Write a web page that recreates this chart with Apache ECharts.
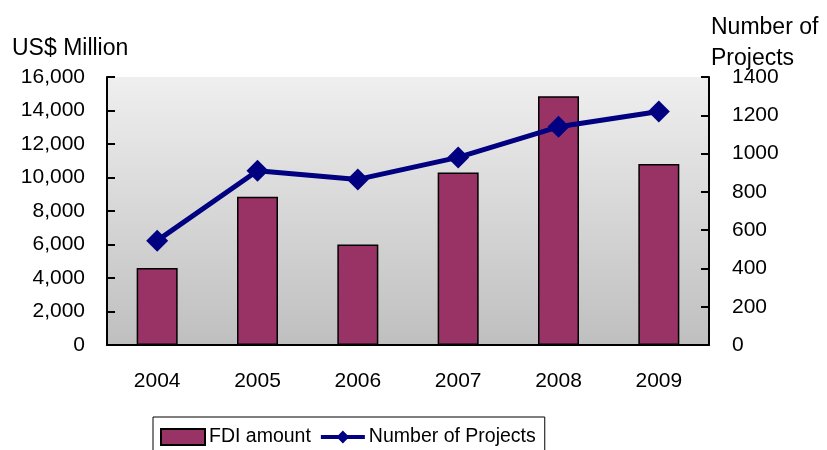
<!DOCTYPE html>
<html>
<head>
<meta charset="utf-8">
<script src="https://cdn.jsdelivr.net/npm/echarts@6/dist/echarts.min.js"></script>
<style>
html,body{margin:0;padding:0;background:#fff;}
#chart{width:827px;height:450px;}
</style>
</head>
<body>
<div id="chart"></div>
<script>
const years = ['2004','2005','2006','2007','2008','2009'];
const fdiAmount = [4600, 8850, 6000, 10300, 14850, 10800];
const numProjects = [545, 910, 865, 980, 1140, 1220];
const leftTicks = {min: 0, max: 16000, interval: 2000};
const rightTicks = {min: 0, max: 1400, interval: 200};

const FONT = '"Liberation Sans", Arial, sans-serif';
const chart = echarts.init(document.getElementById('chart'), null, {renderer: 'canvas'});
chart.setOption({
  animation: false,
  backgroundColor: '#ffffff',
  textStyle: {fontFamily: FONT, color: '#000'},
  grid: {
    left: 107, right: 118, top: 77, bottom: 105,
    show: true, borderWidth: 0,
    backgroundColor: new echarts.graphic.LinearGradient(0, 0, 0, 1, [
      {offset: 0, color: '#efefef'},
      {offset: 1, color: '#bfbfbf'}
    ])
  },
  graphic: [
    {type: 'text', left: 12, top: 37, style: {text: 'US$ Million', font: '23px ' + FONT, fill: '#000'}},
    {type: 'text', left: 711, top: 12, style: {text: 'Number of\nProjects', font: '23px ' + FONT, fill: '#000', lineHeight: 31}}
  ],
  legend: {
    left: 153, top: 417,
    padding: [10, 9, 12, 7],
    borderColor: '#000', borderWidth: 1, borderRadius: 0,
    backgroundColor: '#fff',
    itemWidth: 44, itemHeight: 16, itemGap: 8,
    textStyle: {fontFamily: FONT, fontSize: 19.5, color: '#000', padding: [0, 0, 0, -1]},
    data: [
      {name: 'FDI amount', icon: 'rect'},
      {name: 'Number of Projects'}
    ],
    lineStyle: {width: 4}
  },
  xAxis: {
    type: 'category', data: years,
    axisLine: {lineStyle: {color: '#000', width: 2}},
    axisTick: {inside: true, length: 8, lineStyle: {color: '#000', width: 2}},
    axisLabel: {fontFamily: FONT, fontSize: 21, color: '#000', margin: 26}
  },
  yAxis: [
    {
      type: 'value', min: leftTicks.min, max: leftTicks.max, interval: leftTicks.interval,
      axisLine: {show: true, lineStyle: {color: '#000', width: 2}},
      axisTick: {show: true, inside: true, length: 8, lineStyle: {color: '#000', width: 2}},
      splitLine: {show: false},
      axisLabel: {fontFamily: FONT, fontSize: 21, color: '#000', margin: 22,
        formatter: v => v.toLocaleString('en-US')}
    },
    {
      type: 'value', min: rightTicks.min, max: rightTicks.max, interval: rightTicks.interval,
      axisLine: {show: true, lineStyle: {color: '#000', width: 2}},
      axisTick: {show: true, inside: true, length: 8, lineStyle: {color: '#000', width: 2}},
      splitLine: {show: false},
      axisLabel: {fontFamily: FONT, fontSize: 21, color: '#000', margin: 23,
        formatter: v => String(v)}
    }
  ],
  series: [
    {
      name: 'FDI amount', type: 'bar', data: fdiAmount, yAxisIndex: 0,
      barWidth: 41,
      itemStyle: {color: '#993366', borderColor: '#000', borderWidth: 1.5}
    },
    {
      name: 'Number of Projects', type: 'line', data: numProjects, yAxisIndex: 1,
      lineStyle: {color: '#000080', width: 5},
      itemStyle: {color: '#000080'},
      symbol: 'diamond', symbolSize: 22, showSymbol: true
    }
  ]
});
</script>
</body>
</html>
